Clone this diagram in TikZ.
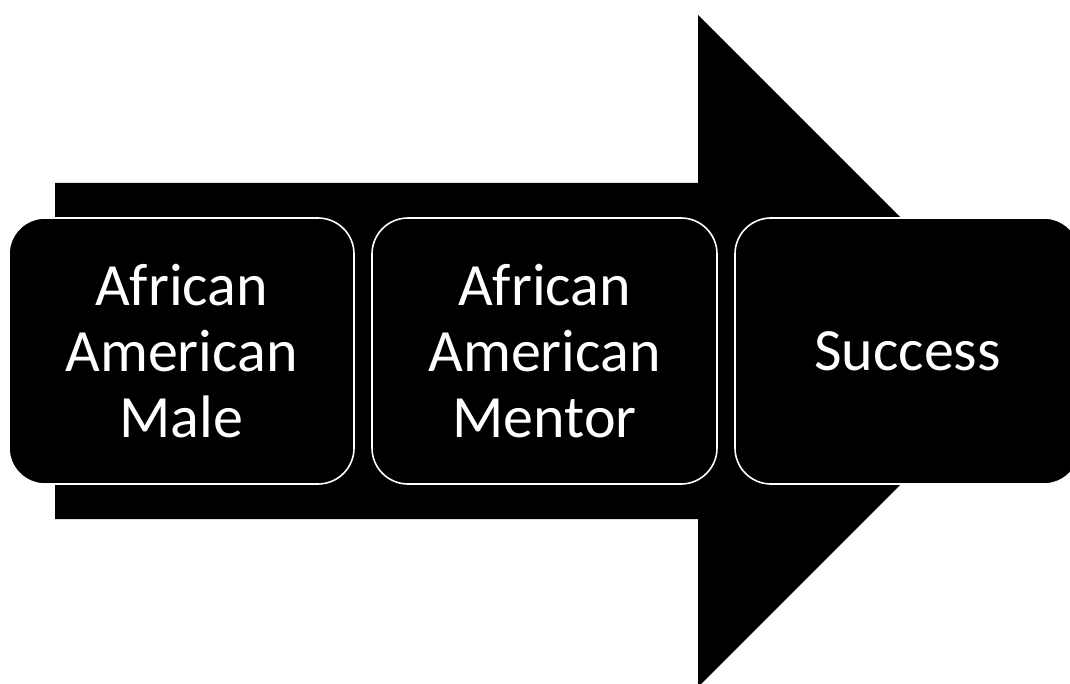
\documentclass[tikz,border=0pt]{standalone}
\usepackage{fontspec}
\setmainfont{Carlito}
\begin{document}
\begin{tikzpicture}[x=0.75pt,y=-0.75pt,
  stepbox/.style={draw=white,fill=black,line width=1.2pt,rounded corners=27pt,
    minimum width=258.75pt,minimum height=199.5pt,text=white,align=center,
    inner sep=0pt,font=\fontsize{45pt}{49.5pt}\selectfont},
  bigarrow/.style={fill=black}]
\useasboundingbox (0,0) rectangle (1070,684);
\clip (0,0) rectangle (1070,684);
\fill[bigarrow] (55,183) -- (698,183) -- (698,15) -- (1034,351) -- (698,687) -- (698,519) -- (55,519) -- cycle;
\node[stepbox] (b1) at (181.5,351) {African\\American\\Male};
\node[stepbox] (b2) at (544.5,351) {African\\American\\Mentor};
\node[stepbox] (b3) at (907.5,351) {Success};
\end{tikzpicture}
\end{document}
